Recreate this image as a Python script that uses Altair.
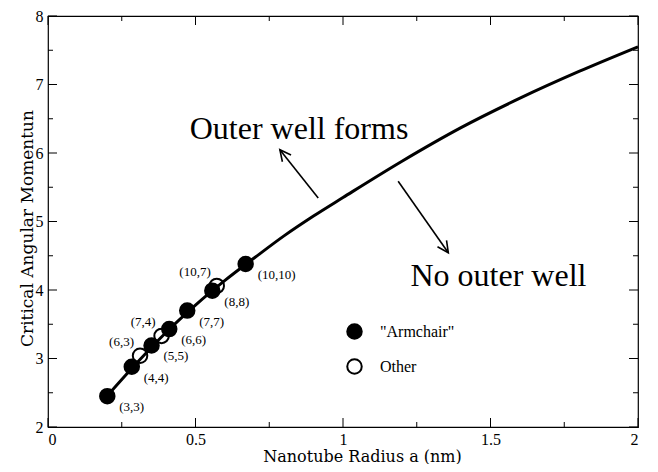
import altair as alt
import pandas as pd

SERIF = "Liberation Serif, Times New Roman, Times, DejaVu Serif, serif"
WIDE_SERIF = "DejaVu Serif, serif"

# Critical angular momentum curve
curve_a = [0.2, 0.3, 0.4, 0.5, 0.6, 0.7, 0.8, 0.9, 1.0, 1.2, 1.4, 1.6, 1.8, 2.0]
curve_L = [2.45, 2.93, 3.38, 3.78, 4.14, 4.47, 4.79, 5.08, 5.35, 5.88, 6.37, 6.80, 7.19, 7.55]

# Nanotubes
arm_names = ["(3,3)", "(4,4)", "(5,5)", "(6,6)", "(7,7)", "(8,8)", "(10,10)"]
arm_a = [0.201, 0.284, 0.351, 0.411, 0.472, 0.557, 0.670]
arm_L = [2.45, 2.88, 3.19, 3.43, 3.70, 3.99, 4.38]

oth_names = ["(6,3)", "(7,4)", "(10,7)"]
oth_a = [0.312, 0.385, 0.572]
oth_L = [3.04, 3.33, 4.06]

kinds = ['"Armchair"', "Other"]

# Annotations
ann_text = ["Outer well forms", "No outer well"]
ann_a = [0.851, 1.527]
ann_L = [6.21, 4.06]

arrow_a0 = [0.916, 1.187]
arrow_L0 = [5.344, 5.587]
arrow_a1 = [0.786, 1.357]
arrow_L1 = [6.048, 4.545]

# Ticks
x_major = [0, 0.5, 1, 1.5, 2]
x_minor = [0.25, 0.75, 1.25, 1.75]
y_major = [2, 3, 4, 5, 6, 7, 8]
y_minor = [2.5, 3.5, 4.5, 5.5, 6.5, 7.5]

W, H = 590, 411

curve_df = pd.DataFrame({"a": curve_a, "L": curve_L})
pts_df = pd.concat([
    pd.DataFrame({"a": oth_a, "L": oth_L, "name": oth_names, "kind": kinds[1]}),
    pd.DataFrame({"a": arm_a, "L": arm_L, "name": arm_names, "kind": kinds[0]}),
], ignore_index=True)
arm_df = pd.DataFrame({"a": arm_a, "L": arm_L, "name": arm_names})
oth_df = pd.DataFrame({"a": oth_a, "L": oth_L, "name": oth_names})
ann_df = pd.DataFrame({"a": ann_a, "L": ann_L, "t": ann_text})
arr_df = pd.DataFrame({"a0": arrow_a0, "L0": arrow_L0, "a1": arrow_a1, "L1": arrow_L1})

xs = alt.Scale(domain=[0, 2], nice=False, zero=False)
ys = alt.Scale(domain=[2, 8], nice=False, zero=False)

xaxis = alt.Axis(values=x_major, format="~g", ticks=False, domain=False, grid=False,
                 labelFont=SERIF, labelFontSize=16, labelPadding=4, labelColor="black",
                 title="Nanotube Radius a (nm)", titleFont=WIDE_SERIF, titleFontSize=16,
                 titleFontWeight="normal", titleColor="black", titleX=314, titleY=29,
                 titleAlign="center", titleBaseline="middle")
yaxis = alt.Axis(values=y_major, format="~g", ticks=False, domain=False, grid=False,
                 labelFont=SERIF, labelFontSize=16, labelPadding=5, labelColor="black",
                 title="Critical Angular Momentun", titleFont=WIDE_SERIF, titleFontSize=17,
                 titleFontWeight="normal", titleColor="black", titleX=-21, titleY=212,
                 titleAlign="center", titleBaseline="middle", titleAngle=270)

X = alt.X("a:Q", scale=xs, axis=xaxis)
Y = alt.Y("L:Q", scale=ys, axis=yaxis)

line = alt.Chart(curve_df).mark_line(color="black", strokeWidth=3, interpolate="monotone").encode(x=X, y=Y)

points = alt.Chart(pts_df).mark_point(shape="circle", filled=True, size=210, stroke="black",
                                      strokeWidth=2, opacity=1).encode(
    x="a:Q", y="L:Q",
    fill=alt.Fill("kind:N", scale=alt.Scale(domain=kinds, range=["black", "rgba(255,255,255,0)"]),
                  legend=alt.Legend(title=None, orient="none", legendX=298, legendY=307,
                                    padding=0, symbolType="circle", symbolSize=210,
                                    symbolStrokeColor="black", symbolStrokeWidth=2,
                                    labelFont=SERIF, labelFontSize=16, labelColor="black",
                                    labelOffset=17, rowPadding=12)),
)

arm_lab = alt.Chart(arm_df).mark_text(align="left", baseline="middle", dx=12, dy=11,
                                      font=SERIF, fontSize=13, color="black").encode(
    x="a:Q", y="L:Q", text="name:N")
oth_lab = alt.Chart(oth_df).mark_text(align="right", baseline="middle", dx=-6, dy=-14,
                                      font=SERIF, fontSize=13, color="black").encode(
    x="a:Q", y="L:Q", text="name:N")

ann = alt.Chart(ann_df).mark_text(align="center", baseline="alphabetic", font=SERIF,
                                  fontSize=32, color="black").encode(x="a:Q", y="L:Q", text="t:N")

arrows = alt.Chart(arr_df).mark_rule(color="black", strokeWidth=1.6).encode(
    x="a0:Q", y="L0:Q", x2="a1:Q", y2="L1:Q")

HEAD = "M-0.45,0.9L0,0L0.45,0.9"
head1 = alt.Chart(arr_df.iloc[[0]]).mark_point(shape=HEAD, filled=False, size=600, stroke="black",
                                               strokeWidth=1.6, angle=321.6, opacity=1).encode(
    x="a1:Q", y="L1:Q")
head2 = alt.Chart(arr_df.iloc[[1]]).mark_point(shape=HEAD, filled=False, size=600, stroke="black",
                                               strokeWidth=1.6, angle=145.1, opacity=1).encode(
    x="a1:Q", y="L1:Q")

def xticks(vals, length):
    df = pd.DataFrame({"v": vals})
    b = alt.Chart(df).mark_rule(color="black", strokeWidth=1).encode(
        x="v:Q", y=alt.value(H), y2=alt.value(H - length))
    t = alt.Chart(df).mark_rule(color="black", strokeWidth=1).encode(
        x="v:Q", y=alt.value(0), y2=alt.value(length))
    return [b, t]

def yticks(vals, length):
    df = pd.DataFrame({"v": vals})
    l = alt.Chart(df).mark_rule(color="black", strokeWidth=1).encode(
        y="v:Q", x=alt.value(0), x2=alt.value(length))
    r = alt.Chart(df).mark_rule(color="black", strokeWidth=1).encode(
        y="v:Q", x=alt.value(W), x2=alt.value(W - length))
    return [l, r]

tick_layers = xticks(x_major, 9) + xticks(x_minor, 5) + yticks(y_major, 9) + yticks(y_minor, 5)

chart = alt.layer(line, *tick_layers, arrows, head1, head2, ann, points, arm_lab, oth_lab).properties(
    width=W, height=H, autosize=alt.AutoSizeParams(type="none"),
    padding={"left": 40, "top": 8, "right": 12, "bottom": 37},
    background="white",
).configure_view(stroke="black", strokeWidth=1.2)

chart.save("out.html", embed_options={"renderer": "svg", "actions": False})
